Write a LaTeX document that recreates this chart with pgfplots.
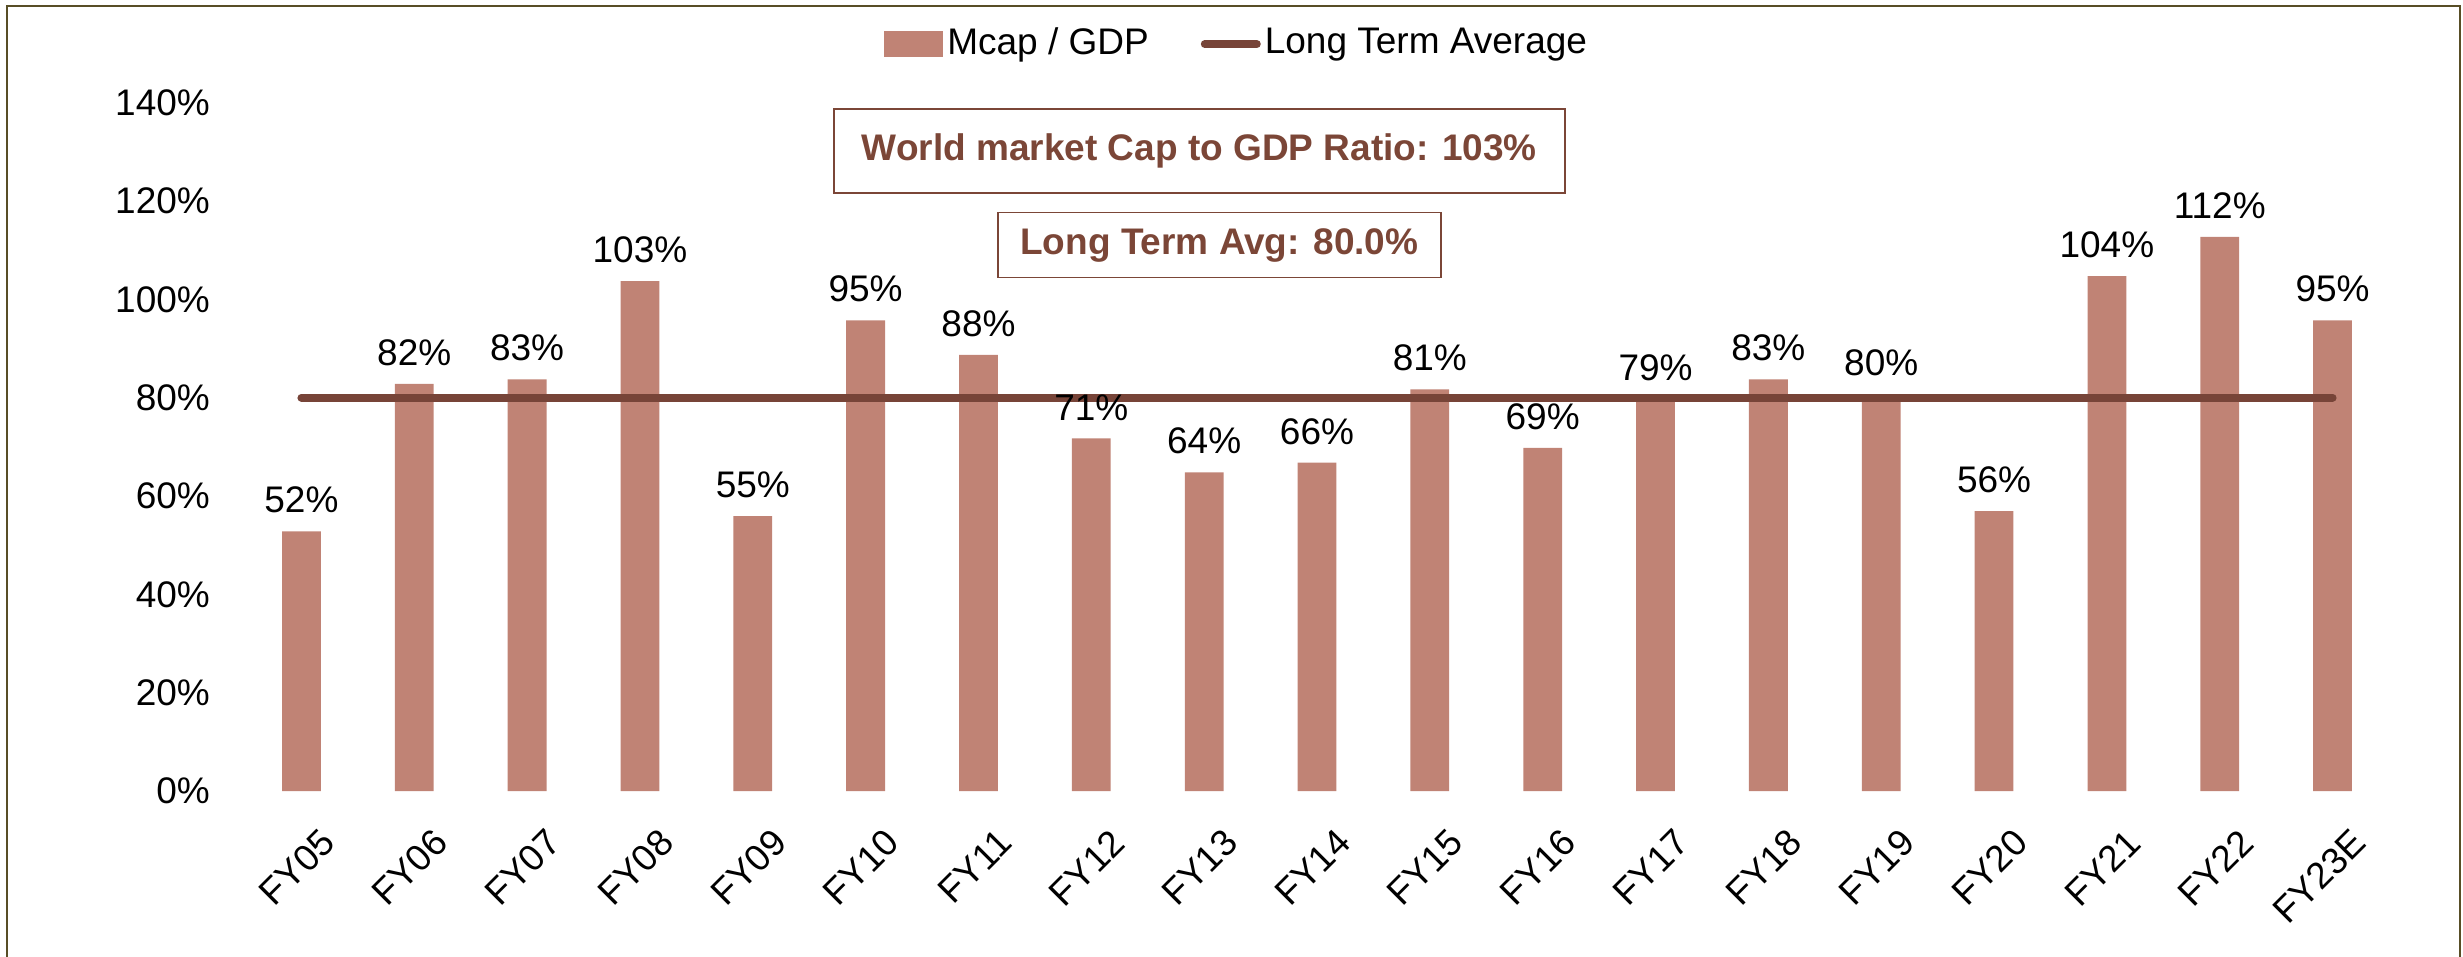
\documentclass[border=0pt]{standalone}
\usepackage{pgfplots}
\pgfplotsset{compat=1.18}
\usepackage{fontspec}
\setmainfont{Liberation Sans}

\definecolor{barcol}{RGB}{192,131,117}
\definecolor{avgcol}{RGB}{119,68,56}
\definecolor{boxtxt}{RGB}{123,70,55}
\definecolor{framecol}{RGB}{88,78,38}

\begin{document}
\begin{tikzpicture}[font=\fontsize{9.25}{11}\selectfont]
  \useasboundingbox (-61.25pt,-41.25pt) rectangle (554.5pt,197.75pt);
  \draw[framecol, line width=0.6pt] (-59.5pt,-43pt) rectangle (553.75pt,196.25pt);

  \begin{axis}[
    scale only axis,
    width=536pt, height=172.1pt,
    xmin=-0.5, xmax=18.5,
    ymin=0, ymax=140,
    axis line style={draw=none},
    major tick length=0pt,
    ytick={0,20,...,140},
    yticklabels={0\%,20\%,40\%,60\%,80\%,100\%,120\%,140\%},
    yticklabel style={anchor=east, xshift=-5.25pt},
    xtick={0,...,18},
    xticklabels={FY05,FY06,FY07,FY08,FY09,FY10,FY11,FY12,FY13,FY14,FY15,FY16,FY17,FY18,FY19,FY20,FY21,FY22,FY23E},
    xticklabel style={rotate=45, anchor=east, xshift=0.25pt, yshift=-12.75pt},
    legend columns=2,
    legend style={at={(0.463,1.085)}, anchor=center, draw=none, fill=none,
      inner sep=0pt, nodes={inner xsep=1pt},
      /tikz/every even column/.append style={column sep=12pt}},
  ]
    \addplot[ybar, bar width=9.7pt, fill=barcol, draw=none,
      point meta=explicit symbolic,
      nodes near coords,
      every node near coord/.append style={anchor=south, yshift=1pt, black},
      legend image code/.code={\fill[barcol] (0pt,-3.25pt) rectangle (14.75pt,3.25pt);}]
      coordinates {
        (0,52.8) [52\%]
        (1,82.8) [82\%]
        (2,83.7) [83\%]
        (3,103.7) [103\%]
        (4,55.9) [55\%]
        (5,95.7) [95\%]
        (6,88.7) [88\%]
        (7,71.7) [71\%]
        (8,64.8) [64\%]
        (9,66.8) [66\%]
        (10,81.7) [81\%]
        (11,69.8) [69\%]
        (12,79.7) [79\%]
        (13,83.7) [83\%]
        (14,80.7) [80\%]
        (15,56.9) [56\%]
        (16,104.7) [104\%]
        (17,112.7) [112\%]
        (18,95.7) [95\%]
      };
    \addlegendentry{Mcap / GDP}
    \addplot[avgcol, line width=2pt, line cap=round, mark=none,
      legend image code/.code={\draw[avgcol, line width=2pt, line cap=round] (1pt,0pt) -- (14pt,0pt);}]
      coordinates {(0,80) (18,80)};
    \addlegendentry{Long Term Average}
  \end{axis}

  \node[draw=boxtxt, line width=0.4pt, text=boxtxt, font=\fontsize{9.25}{11}\selectfont\bfseries,
    minimum width=182.75pt, minimum height=21pt, inner sep=0pt]
    at (238.6pt,160pt) {World market Cap to GDP Ratio: 103\%};
  \node[draw=boxtxt, line width=0.4pt, text=boxtxt, font=\fontsize{9.25}{11}\selectfont\bfseries,
    minimum width=110.75pt, minimum height=16.25pt, inner sep=0pt]
    at (243.6pt,136.5pt) {Long Term Avg: 80.0\%};
\end{tikzpicture}
\end{document}
